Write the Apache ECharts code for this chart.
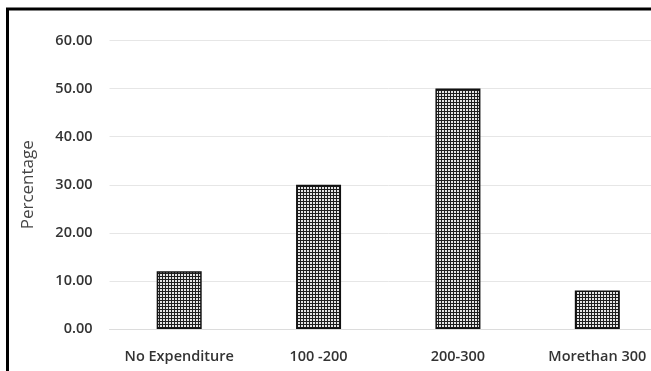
<!DOCTYPE html>
<html>
<head>
<meta charset="utf-8">
<script src="https://cdn.jsdelivr.net/npm/echarts@6/dist/echarts.min.js"></script>
<style>
  html, body { margin: 0; padding: 0; background: #fff; overflow: hidden; }
  #wrap { width: 651px; height: 371px; overflow: hidden; }
  #chart { width: 667px; height: 371px; }
</style>
</head>
<body>
<div id="wrap"><div id="chart"></div></div>
<script>
// Monthly expenditure groups and share of respondents (%)
const categories = ['No Expenditure', '100 -200', '200-300', 'Morethan 300'];
const percentages = [12, 30, 50, 8];
const yTicks = { min: 0, max: 60, step: 10 };
const axisTitle = 'Percentage';

// Cross-hatched fill for the bars
function hatchPattern() {
  const c = document.createElement('canvas');
  c.width = 3; c.height = 3;
  const g = c.getContext('2d');
  g.fillStyle = '#e4e4e4';
  g.fillRect(0, 0, 3, 3);
  g.fillStyle = '#1e1e1e';
  g.fillRect(0, 0, 3, 1);
  g.fillRect(0, 0, 1, 3);
  return c;
}

const chart = echarts.init(document.getElementById('chart'), null, { renderer: 'canvas' });
const textColor = '#333333';
const fontFamily = '"Open Sans", "Liberation Sans", sans-serif';

chart.setOption({
  animation: false,
  backgroundColor: '#ffffff',
  grid: { left: 109.5, right: 0, top: 40.5, bottom: 42 },
  graphic: [{
    type: 'rect',
    silent: true,
    shape: { x: 7.5, y: 9, width: 720, height: 400 },
    style: { fill: 'none', stroke: '#000', lineWidth: 3 }
  }],
  xAxis: {
    type: 'category',
    data: categories,
    boundaryGap: true,
    axisLine: { show: true, lineStyle: { color: '#dcdcdc', width: 1 } },
    axisTick: { show: false },
    axisLabel: { color: textColor, fontFamily, fontSize: 14.5, fontWeight: 600, margin: 20, interval: 0 }
  },
  yAxis: {
    type: 'value',
    min: yTicks.min,
    max: yTicks.max,
    interval: yTicks.step,
    name: axisTitle,
    nameLocation: 'middle',
    nameGap: 73,
    nameTextStyle: { color: '#444', fontFamily, fontSize: 17 },
    axisLine: { show: false },
    axisTick: { show: false },
    splitLine: { lineStyle: { color: '#e6e6e6', width: 1 } },
    axisLabel: {
      color: textColor, fontFamily, fontSize: 14.5, fontWeight: 600, margin: 17,
      formatter: v => v.toFixed(2)
    }
  },
  series: [{
    type: 'bar',
    data: percentages,
    barWidth: 45,
    itemStyle: {
      color: { image: hatchPattern(), repeat: 'repeat' },
      borderColor: '#111',
      borderWidth: 1.5
    }
  }]
});
</script>
</body>
</html>
